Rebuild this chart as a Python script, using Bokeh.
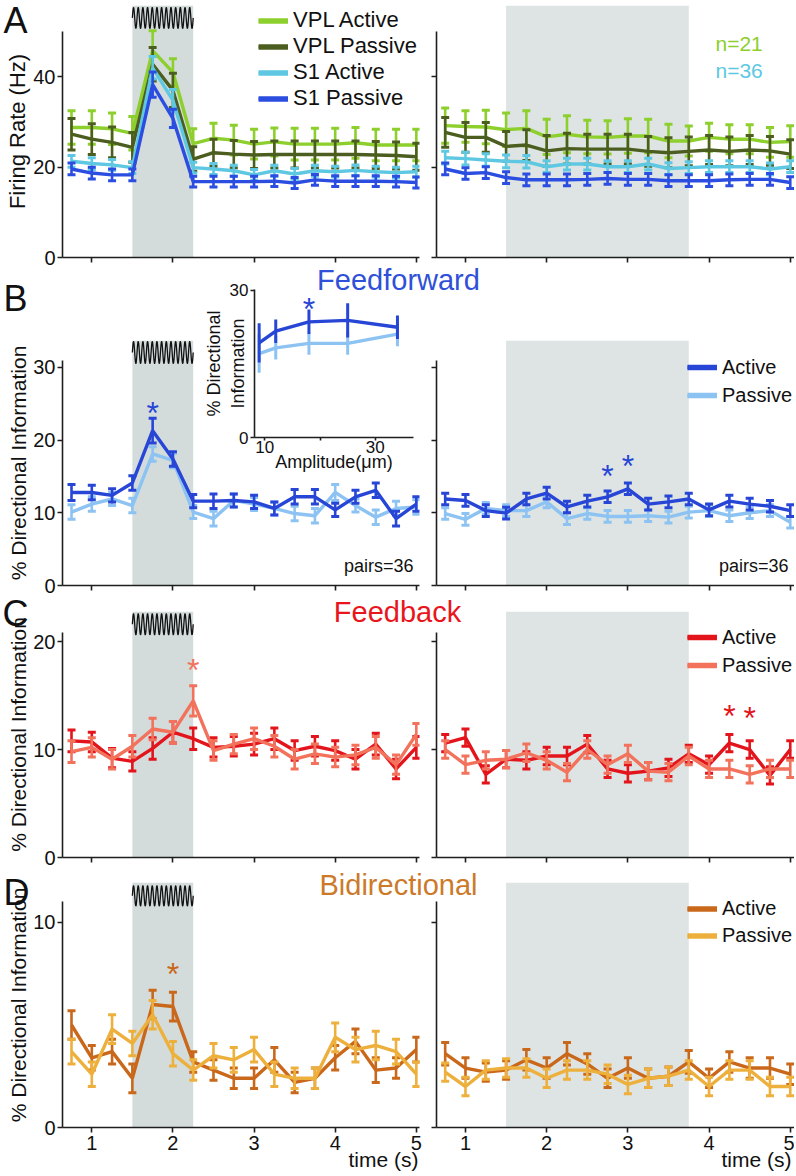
from bokeh.plotting import figure
from bokeh.models import Range1d, BoxAnnotation, Label, Legend, LegendItem, FixedTicker
from bokeh.layouts import row, column
from bokeh.core.properties import value
from bokeh.embed import file_html
from bokeh.resources import INLINE
import numpy as np

FONT = "Liberation Sans"
AX = "#1e1e1e"
TXT = "#111111"

# ---------------- data ----------------
time_s = [0.75, 1.0, 1.25, 1.5, 1.75, 2.0, 2.25, 2.5, 2.75, 3.0, 3.25, 3.5, 3.75, 4.0, 4.25, 4.5, 4.75, 5.0]
x_ticks = [1, 2, 3, 4, 5]
stim_left = [1.5, 2.25]
stim_right = [1.5, 3.75]

# A: firing rate (Hz)
vpl_act_L = [28.8, 28.8, 28.5, 27.5, 45.8, 41.0, 25.2, 26.4, 26.0, 25.1, 25.6, 25.1, 25.1, 25.1, 25.4, 24.9, 24.9, 24.9]
vpl_act_L_err = [3.7, 3.7, 3.5, 3.7, 4.4, 3.0, 3.3, 3.3, 3.3, 3.3, 3.1, 3.5, 3.5, 3.5, 3.4, 3.5, 3.5, 3.5]
vpl_pas_L = [27.3, 26.2, 25.5, 24.4, 42.8, 37.0, 21.8, 23.2, 22.9, 22.7, 22.8, 22.8, 22.8, 22.8, 22.8, 22.7, 22.6, 22.3]
vpl_pas_L_err = [3.5, 3.4, 3.4, 3.3, 3.7, 3.8, 2.7, 3.0, 3.0, 3.0, 3.0, 3.0, 3.0, 3.0, 3.0, 3.0, 3.0, 3.0]
s1_act_L = [21.3, 20.8, 20.5, 19.9, 42.0, 34.8, 19.9, 19.6, 19.2, 18.3, 19.2, 18.5, 19.2, 19.0, 19.3, 19.0, 18.8, 19.0]
s1_act_L_err = [1.3, 1.3, 1.2, 1.3, 2.5, 2.4, 1.2, 1.2, 1.2, 1.2, 1.2, 1.2, 1.2, 1.2, 1.2, 1.2, 1.2, 1.2]
s1_pas_L = [19.6, 18.7, 18.3, 18.3, 38.3, 30.8, 16.8, 16.8, 16.8, 16.8, 16.9, 16.5, 17.2, 16.9, 16.9, 16.9, 16.8, 16.6]
s1_pas_L_err = [1.3, 1.3, 1.3, 1.3, 2.8, 2.0, 1.2, 1.2, 1.2, 1.2, 1.2, 1.2, 1.2, 1.2, 1.2, 1.2, 1.2, 1.2]

vpl_act_R = [29.2, 29.0, 28.9, 28.3, 28.6, 26.7, 27.3, 26.7, 26.6, 26.9, 26.9, 25.8, 25.8, 26.6, 26.2, 26.2, 25.5, 25.7]
vpl_act_R_err = [3.9, 3.5, 3.7, 3.7, 3.9, 3.9, 4.1, 3.7, 3.7, 3.8, 3.7, 3.7, 3.3, 3.1, 3.2, 3.2, 3.3, 3.5]
vpl_pas_R = [27.7, 26.6, 26.6, 24.6, 24.9, 23.6, 24.1, 24.0, 24.0, 24.0, 23.5, 23.2, 23.5, 23.8, 23.5, 23.8, 23.6, 22.9]
vpl_pas_R_err = [3.3, 3.3, 3.3, 3.3, 3.4, 3.4, 3.4, 3.3, 3.3, 3.3, 3.3, 3.3, 3.2, 3.2, 3.2, 3.2, 3.2, 3.2]
s1_act_R = [22.1, 21.9, 21.6, 21.3, 21.2, 20.1, 20.7, 20.7, 20.1, 20.1, 20.7, 19.7, 19.9, 20.1, 20.1, 20.1, 19.6, 20.1]
s1_act_R_err = [1.4, 1.4, 1.4, 1.4, 1.4, 1.3, 1.3, 1.3, 1.3, 1.3, 1.3, 1.3, 1.3, 1.3, 1.3, 1.3, 1.3, 1.3]
s1_pas_R = [19.6, 18.6, 18.8, 17.7, 17.2, 17.2, 17.2, 17.3, 17.5, 17.3, 17.3, 17.0, 17.0, 17.0, 17.2, 17.3, 17.3, 16.6]
s1_pas_R_err = [1.3, 1.3, 1.3, 1.3, 1.3, 1.3, 1.3, 1.3, 1.3, 1.3, 1.3, 1.3, 1.3, 1.3, 1.3, 1.3, 1.3, 1.3]

# B: feedforward % directional information
ff_act_L = [12.8, 12.8, 12.4, 14.1, 21.3, 17.4, 11.6, 11.6, 11.7, 11.5, 10.6, 12.2, 12.2, 10.4, 12.2, 13.1, 9.2, 11.2]
ff_act_L_err = [1.1, 1.0, 0.9, 1.0, 1.7, 1.0, 0.9, 1.0, 0.9, 0.9, 0.9, 1.0, 1.0, 0.9, 0.9, 1.0, 1.0, 1.0]
ff_pas_L = [10.1, 11.2, 11.9, 11.0, 18.1, 17.2, 10.1, 9.2, 11.7, 11.2, 10.6, 9.9, 9.6, 12.8, 11.0, 9.4, 10.6, 10.8]
ff_pas_L_err = [1.0, 1.0, 0.9, 1.0, 1.0, 1.0, 0.9, 1.0, 0.9, 0.9, 0.9, 1.0, 1.0, 1.1, 0.9, 1.0, 1.0, 1.0]
ff_act_R = [11.9, 11.7, 10.3, 9.95, 11.9, 12.7, 10.8, 11.6, 12.2, 13.3, 11.2, 11.5, 11.9, 10.4, 11.6, 11.2, 10.9, 10.3]
ff_act_R_err = [0.8, 0.8, 0.8, 0.8, 0.8, 0.8, 0.8, 0.8, 0.8, 0.8, 0.8, 0.8, 0.8, 0.8, 0.8, 0.8, 0.8, 0.8]
ff_pas_R = [9.9, 9.1, 10.6, 10.3, 10.3, 11.5, 9.2, 9.9, 9.5, 9.5, 9.6, 9.4, 10.1, 10.3, 9.6, 10.0, 10.3, 8.7]
ff_pas_R_err = [0.8, 0.8, 0.8, 0.8, 0.8, 0.8, 0.8, 0.8, 0.8, 0.8, 0.8, 0.8, 0.8, 0.8, 0.8, 0.8, 0.8, 0.8]

# C: feedback
fb_act_L = [10.8, 10.7, 9.2, 8.9, 10.1, 11.6, 11.0, 10.2, 10.3, 10.5, 11.0, 9.9, 10.3, 9.9, 9.1, 10.5, 8.2, 10.2]
fb_act_L_err = [1.0, 0.9, 0.9, 0.9, 1.0, 1.0, 1.0, 0.9, 0.9, 1.0, 1.0, 0.9, 0.9, 0.9, 0.9, 1.0, 0.9, 1.0]
fb_pas_L = [9.8, 10.2, 9.1, 10.3, 11.9, 11.6, 14.5, 9.9, 10.5, 11.0, 10.3, 9.1, 9.6, 9.3, 9.5, 10.2, 8.6, 11.4]
fb_pas_L_err = [1.0, 0.9, 0.9, 1.0, 1.0, 1.0, 1.4, 0.9, 0.9, 1.0, 1.0, 0.9, 0.9, 0.9, 0.9, 1.0, 0.9, 1.0]
fb_act_R = [10.6, 11.1, 7.7, 9.1, 9.0, 9.4, 9.4, 10.5, 8.2, 7.8, 8.0, 8.3, 9.6, 8.6, 10.6, 10.0, 7.6, 10.0]
fb_act_R_err = [0.8, 0.8, 0.8, 0.8, 0.8, 0.8, 0.8, 0.8, 0.8, 0.8, 0.8, 0.8, 0.8, 0.8, 0.8, 0.8, 0.8, 0.8]
fb_pas_R = [10.0, 8.6, 9.0, 9.1, 9.7, 9.0, 7.9, 10.0, 8.6, 9.6, 8.0, 7.9, 9.4, 8.2, 8.2, 7.7, 8.2, 8.2]
fb_pas_R_err = [0.8, 0.8, 0.8, 0.8, 0.8, 0.8, 0.8, 0.8, 0.8, 0.8, 0.8, 0.8, 0.8, 0.8, 0.8, 0.8, 0.8, 0.8]

# D: bidirectional
bi_act_L = [5.0, 3.4, 3.7, 2.4, 6.0, 5.9, 3.2, 2.8, 2.4, 2.4, 3.3, 2.2, 2.4, 3.4, 4.2, 2.8, 2.9, 3.8]
bi_act_L_err = [0.7, 0.6, 0.6, 0.7, 0.7, 0.7, 0.5, 0.5, 0.5, 0.5, 0.6, 0.5, 0.5, 0.6, 0.6, 0.6, 0.5, 0.6]
bi_pas_L = [3.7, 2.6, 4.8, 4.1, 5.5, 3.6, 2.8, 3.5, 3.3, 3.8, 2.6, 2.4, 2.4, 4.4, 3.8, 4.0, 3.7, 2.6]
bi_pas_L_err = [0.6, 0.6, 0.7, 0.6, 0.7, 0.6, 0.5, 0.6, 0.6, 0.6, 0.6, 0.5, 0.5, 0.7, 0.6, 0.7, 0.6, 0.6]
bi_act_R = [3.6, 2.9, 2.7, 2.8, 3.3, 2.9, 3.6, 3.1, 2.4, 2.9, 2.4, 2.5, 3.2, 2.4, 3.2, 2.9, 2.9, 2.6]
bi_act_R_err = [0.55, 0.5, 0.45, 0.45, 0.5, 0.5, 0.55, 0.5, 0.45, 0.5, 0.45, 0.45, 0.55, 0.45, 0.5, 0.5, 0.5, 0.5]
bi_pas_R = [2.7, 2.0, 2.8, 2.9, 2.9, 2.4, 2.8, 2.8, 2.6, 2.1, 2.4, 2.5, 2.8, 2.0, 2.8, 2.8, 2.0, 2.0]
bi_pas_R_err = [0.45, 0.45, 0.45, 0.45, 0.45, 0.45, 0.45, 0.45, 0.45, 0.45, 0.45, 0.45, 0.45, 0.45, 0.45, 0.45, 0.45, 0.45]

# significance stars (time, value)
star_B_L = ([1.75], [24.6])
star_B_R = ([2.75, 3.0], [16.0, 17.4])
star_C_L = ([2.25], [18.0])
star_C_R = ([4.25, 4.5], [13.7, 13.5])
star_D_L = ([2.0], [7.8])

# inset: amplitude tuning
amplitude = [9, 12, 18, 25, 34]
inset_act = [19.3, 21.7, 23.6, 23.9, 22.5]
inset_act_err = [4.0, 2.4, 2.5, 3.5, 2.4]
inset_pas = [17.1, 18.3, 19.2, 19.2, 21.1]
inset_pas_err = [3.9, 2.4, 2.3, 2.3, 2.5]
inset_star = ([18], [27.6])

# colours
C_VPL_A, C_VPL_P, C_S1_A, C_S1_P = "#8dcf2c", "#4c5e1f", "#5ec8e2", "#2b4de0"
C_FF_A, C_FF_P = "#2746d6", "#8dc3f2"
C_FB_A, C_FB_P = "#e3141b", "#f2725c"
C_BI_A, C_BI_P = "#c9681a", "#eeb03c"
BAND_L, BAND_R = "#d4dcdb", "#dde4e3"

XL = (0.639, 5.039)
XR = (0.643, 5.052)
PAGE_W, PAGE_H = 794, 1174
STAR_YOFF = 6.5


def no_align(p):
    if "frame_align" in p.properties():
        p.frame_align = False


def base_fig(side, height, y_end, top, bottom):
    if side == "L":
        p = figure(width=490, height=height, x_range=Range1d(*XL), y_range=Range1d(0, y_end),
                   min_border_left=62, min_border_right=71, min_border_top=top, min_border_bottom=bottom,
                   toolbar_location=None, output_backend="svg", title=None)
    else:
        p = figure(width=369, height=height, x_range=Range1d(*XR), y_range=Range1d(0, y_end),
                   min_border_left=11, min_border_right=0, min_border_top=top, min_border_bottom=bottom,
                   toolbar_location=None, output_backend="svg", title=None)
        p.border_fill_color = None
        p.background_fill_color = None
    no_align(p)
    p.outline_line_color = None
    p.xgrid.visible = False
    p.ygrid.visible = False
    stim = stim_left if side == "L" else stim_right
    p.add_layout(BoxAnnotation(left=stim[0], right=stim[1], fill_color=BAND_L if side == "L" else BAND_R,
                               fill_alpha=1.0, line_color=None, level="underlay"))
    return p


def style_axes(p, yticks, ybound, xlabels, ylabels, ylabel=None, ylabel_size="21px"):
    xa, ya = p.xaxis[0], p.yaxis[0]
    xa.ticker = FixedTicker(ticks=x_ticks)
    ya.ticker = FixedTicker(ticks=yticks)
    ya.bounds = (0, ybound)
    for ax in (xa, ya):
        ax.axis_line_color = AX
        ax.axis_line_width = 1.6
        ax.major_tick_line_color = AX
        ax.major_tick_line_width = 1.6
        ax.major_tick_out = 5
        ax.major_tick_in = 0
        ax.minor_tick_line_color = None
        ax.major_label_text_font = FONT
        ax.major_label_text_font_size = "20px"
        ax.major_label_text_color = TXT
        ax.major_label_standoff = 2
    if not xlabels:
        xa.major_label_text_color = None
        xa.major_label_standoff = 0
    else:
        xa.major_label_standoff = 3
    if not ylabels:
        ya.major_label_text_color = None
        ya.major_label_standoff = 0
    if ylabel:
        ya.axis_label = ylabel
        ya.axis_label_text_font = FONT
        ya.axis_label_text_font_size = ylabel_size
        ya.axis_label_text_font_style = "normal"
        ya.axis_label_text_color = TXT
        ya.axis_label_standoff = 0


def draw_series(p, y, err, color, lw=3.4):
    lo = [v - e for v, e in zip(y, err)]
    hi = [v + e for v, e in zip(y, err)]
    p.segment(x0=time_s, y0=lo, x1=time_s, y1=hi, line_color=color, line_width=2.6)
    p.scatter(x=time_s + time_s, y=lo + hi, marker="dash", size=8, line_color=color, line_width=3)
    return p.line(time_s, y, line_color=color, line_width=lw)


def draw_stars(p, st, color):
    xs, ys = st
    p.text(x=xs, y=ys, text=["*"] * len(xs), text_color=color, text_font=value(FONT),
           text_font_size=value("32px"), text_align="center", text_baseline="alphabetic",
           y_offset=STAR_YOFF)


def stim_wave(p, yc, amp):
    xs = np.linspace(stim_left[0], stim_left[1], 800)
    ys = yc + amp * np.sin(2 * np.pi * 13 * (xs - stim_left[0]) / (stim_left[1] - stim_left[0]))
    p.line(xs, ys, line_color="#111111", line_width=1.3)


def add_legend(p, names, colors, real, loc, font, gh, margin=0, spacing=0):
    items = []
    for n, c, r0 in zip(names, colors, real):
        r = p.line(x=[np.nan], y=[np.nan], line_color=c, line_width=5.5)
        items.append(LegendItem(label=n, renderers=[r0, r]))
    leg = Legend(items=items, location=loc, glyph_width=30, glyph_height=gh, label_height=gh,
                 label_standoff=5, spacing=spacing, padding=0, margin=margin, border_line_color=None,
                 background_fill_alpha=0, label_text_font=FONT, label_text_font_size=font,
                 label_text_color=TXT)
    p.add_layout(leg)


# ---------------- row A ----------------
A_top = 55.8
A_L = base_fig("L", 270, A_top, 5, 13)
A_R = base_fig("R", 270, A_top, 5, 13)
style_axes(A_L, [0, 20, 40], 50, False, True, "Firing Rate (Hz)", "22px")
style_axes(A_R, [0, 20, 40], 50, False, False)
stim_wave(A_L, 53.05, 2.3)
legA = []
for p, data in ((A_L, [(vpl_act_L, vpl_act_L_err, C_VPL_A), (vpl_pas_L, vpl_pas_L_err, C_VPL_P),
                       (s1_act_L, s1_act_L_err, C_S1_A), (s1_pas_L, s1_pas_L_err, C_S1_P)]),
                (A_R, [(vpl_act_R, vpl_act_R_err, C_VPL_A), (vpl_pas_R, vpl_pas_R_err, C_VPL_P),
                       (s1_act_R, s1_act_R_err, C_S1_A), (s1_pas_R, s1_pas_R_err, C_S1_P)])):
    for y, e, c in data:
        r = draw_series(p, y, e, c)
        if p is A_L:
            legA.append(r)
add_legend(A_L, ["VPL Active", "VPL Passive", "S1 Active", "S1 Passive"],
           [C_VPL_A, C_VPL_P, C_S1_A, C_S1_P], legA, "top_right", "22px", 23, margin=2, spacing=-1)

# ---------------- row B ----------------
B_top = 33.7
B_L = base_fig("L", 328, B_top, 70, 13)
B_R = base_fig("R", 328, B_top, 70, 13)
style_axes(B_L, [0, 10, 20, 30], 31, False, True, "% Directional Information")
style_axes(B_R, [0, 10, 20, 30], 31, False, False)
stim_wave(B_L, 32.05, 1.5)
legB = []
for p, data in ((B_L, [(ff_pas_L, ff_pas_L_err, C_FF_P), (ff_act_L, ff_act_L_err, C_FF_A)]),
                (B_R, [(ff_pas_R, ff_pas_R_err, C_FF_P), (ff_act_R, ff_act_R_err, C_FF_A)])):
    for y, e, c in data:
        r = draw_series(p, y, e, c)
        if p is B_R:
            legB.append(r)
draw_stars(B_L, star_B_L, C_FF_A)
draw_stars(B_R, star_B_R, C_FF_A)
add_legend(B_R, ["Active", "Passive"], [C_FF_A, C_FF_P], [legB[1], legB[0]], (251, 176), "20px", 28)

# inset
ins = figure(width=217, height=193, x_range=Range1d(8.16, 36.9), y_range=Range1d(0, 30.2),
             min_border_left=52, min_border_right=4, min_border_top=7, min_border_bottom=38,
             toolbar_location=None, output_backend="svg", title=None)
no_align(ins)
ins.border_fill_color = None
ins.background_fill_color = None
ins.outline_line_color = None
ins.xgrid.visible = False
ins.ygrid.visible = False
ixa, iya = ins.xaxis[0], ins.yaxis[0]
ixa.ticker = FixedTicker(ticks=[10, 30], minor_ticks=[20])
iya.ticker = FixedTicker(ticks=[0, 30])
for ax in (ixa, iya):
    ax.axis_line_color = AX
    ax.axis_line_width = 1.6
    ax.major_tick_line_color = AX
    ax.major_tick_line_width = 1.6
    ax.major_tick_in = 0
    ax.minor_tick_line_color = None
    ax.major_label_text_font = FONT
    ax.major_label_text_font_size = "17px"
    ax.major_label_text_color = TXT
    ax.axis_label_text_font = FONT
    ax.axis_label_text_font_size = "18px"
    ax.axis_label_text_font_style = "normal"
    ax.axis_label_text_color = TXT
ixa.major_tick_out = 3
ixa.minor_tick_line_color = AX
ixa.minor_tick_line_width = 1.6
ixa.minor_tick_out = 3
ixa.minor_tick_in = 0
ixa.major_label_standoff = 0
ixa.axis_label = "Amplitude(μm)"
ixa.axis_label_standoff = -4
iya.major_tick_out = 4
iya.major_label_standoff = 2
iya.axis_label = "% Directional\nInformation"
iya.axis_label_standoff = -21
for y, e, c in ((inset_pas, inset_pas_err, C_FF_P), (inset_act, inset_act_err, C_FF_A)):
    lo = [v - d for v, d in zip(y, e)]
    hi = [v + d for v, d in zip(y, e)]
    ins.segment(x0=amplitude, y0=lo, x1=amplitude, y1=hi, line_color=c, line_width=3)
    ins.line(amplitude, y, line_color=c, line_width=3.4)
draw_stars(ins, inset_star, C_FF_A)
ins.margin = (12, 8, 0, -290)

# ---------------- row C ----------------
C_top = 22.78
C_L = base_fig("L", 272, C_top, 13, 13)
C_R = base_fig("R", 272, C_top, 13, 13)
style_axes(C_L, [0, 10, 20], 20.8, False, True, "% Directional Information")
style_axes(C_R, [0, 10, 20], 20.8, False, False)
stim_wave(C_L, 21.6, 0.97)
legC = []
for p, data in ((C_L, [(fb_act_L, fb_act_L_err, C_FB_A), (fb_pas_L, fb_pas_L_err, C_FB_P)]),
                (C_R, [(fb_act_R, fb_act_R_err, C_FB_A), (fb_pas_R, fb_pas_R_err, C_FB_P)])):
    for y, e, c in data:
        r = draw_series(p, y, e, c)
        if p is C_R:
            legC.append(r)
draw_stars(C_L, star_C_L, C_FB_P)
draw_stars(C_R, star_C_R, C_FB_A)
add_legend(C_R, ["Active", "Passive"], [C_FB_A, C_FB_P], legC, (251, 178), "20px", 28)

# ---------------- row D ----------------
D_top = 11.95
D_L = base_fig("L", 304, D_top, 12, 47)
D_R = base_fig("R", 304, D_top, 12, 47)
style_axes(D_L, [0, 10], 11.0, True, True, "% Directional Information")
style_axes(D_R, [0, 10], 11.0, True, False)
stim_wave(D_L, 11.3, 0.49)
legD = []
for p, data in ((D_L, [(bi_act_L, bi_act_L_err, C_BI_A), (bi_pas_L, bi_pas_L_err, C_BI_P)]),
                (D_R, [(bi_act_R, bi_act_R_err, C_BI_A), (bi_pas_R, bi_pas_R_err, C_BI_P)])):
    for y, e, c in data:
        r = draw_series(p, y, e, c)
        if p is D_R:
            legD.append(r)
draw_stars(D_L, star_D_L, C_BI_A)
add_legend(D_R, ["Active", "Passive"], [C_BI_A, C_BI_P], legD, (251, 178), "20px", 27)

for r in (A_R, C_R, D_R):
    r.margin = (0, 0, 0, -65)
B_R.margin = (0, 0, 0, 0)

# ---------------- overlay for free texts (page pixel coordinates) ----------------
ov = figure(width=PAGE_W, height=PAGE_H, x_range=Range1d(0, PAGE_W), y_range=Range1d(PAGE_H, 0),
            x_axis_type=None, y_axis_type=None, toolbar_location=None, output_backend="svg",
            title=None, min_border=0, min_border_left=0, min_border_right=0,
            min_border_top=0, min_border_bottom=0)
no_align(ov)
ov.border_fill_color = None
ov.background_fill_color = None
ov.outline_line_color = None
ov.xgrid.visible = False
ov.ygrid.visible = False

BASE_SHIFT = 0.35  # rendered baseline sits this many em below the anchor


def otext(x, y, text, size, color=TXT, align="left"):
    ov.add_layout(Label(x=x, y=y - BASE_SHIFT * size, text=text, text_font=FONT,
                        text_font_size=f"{size}px", text_color=color,
                        text_align=align, text_baseline="alphabetic"))


otext(3, 33, "A", 36)
otext(3, 311, "B", 36)
otext(2, 626, "C", 36)
otext(3, 905, "D", 36)
otext(398, 290, "Feedforward", 29, "#2f50d8", "center")
otext(397, 621.5, "Feedback", 29, "#e8161c", "center")
otext(398, 895, "Bidirectional", 29, "#cc7a2a", "center")
otext(715, 50, "n=21", 21, C_VPL_A)
otext(715, 77, "n=36", 21, C_S1_A)
otext(413, 572, "pairs=36", 18, TXT, "right")
otext(788, 572, "pairs=36", 18, TXT, "right")
otext(418, 1166, "time (s)", 21, TXT, "right")
otext(791, 1166, "time (s)", 21, TXT, "right")
ov.margin = (-PAGE_H, 0, 0, 0)

layout = column(row(A_L, A_R), row(B_L, ins, B_R), row(C_L, C_R), row(D_L, D_R), ov)
open("out.html", "w").write(file_html(layout, INLINE))
